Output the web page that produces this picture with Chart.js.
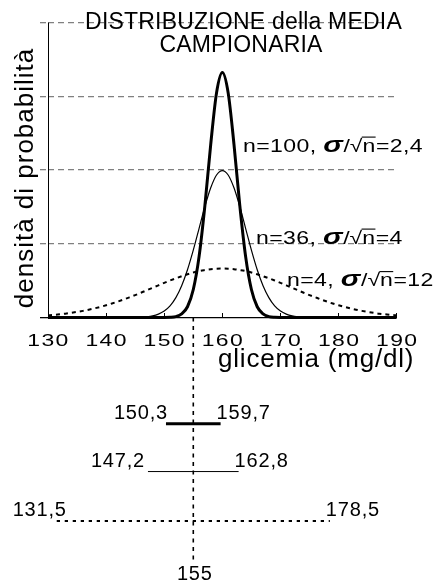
<!DOCTYPE html>
<html><head><meta charset="utf-8">
<script src="https://cdn.jsdelivr.net/npm/chart.js@4"></script>
<style>html,body{margin:0;padding:0;background:#fff}#wrap{width:443px;height:586px}</style>
</head><body><div id="wrap"><canvas id="c" width="443" height="586"></canvas></div>
<script>
// ---- data ----
const glicemia = [130,131,132,133,134,135,136,137,138,139,140,141,142,143,144,145,146,147,148,149,150,151,152,153,154,155,156,157,158,159,160,161,162,163,164,165,166,167,168,169,170,171,172,173,174,175,176,177,178,179,180,181,182,183,184,185,186,187,188,189,190];
const densN100 = [0,0,0,0,0,0,0,0,0,0,0,0,0,0,0,0,0,0,0,0,0,0.0001,0.0006,0.0024,0.0073,0.0190,0.0415,0.0761,0.1175,0.1524,0.1662,0.1524,0.1175,0.0761,0.0415,0.0190,0.0073,0.0024,0.0006,0.0001,0,0,0,0,0,0,0,0,0,0,0,0,0,0,0,0,0,0,0,0,0];
const densN36 = [0,0,0,0,0,0,0,0,0,0,0,0,0,0,0,0.0001,0.0002,0.0005,0.0011,0.0023,0.0044,0.0079,0.0135,0.0216,0.0324,0.0457,0.0605,0.0753,0.0880,0.0967,0.0997,0.0967,0.0880,0.0753,0.0605,0.0457,0.0324,0.0216,0.0135,0.0079,0.0044,0.0023,0.0011,0.0005,0.0002,0.0001,0,0,0,0,0,0,0,0,0,0,0,0,0,0,0];
const densN4 = [0.0015,0.0018,0.0022,0.0026,0.0032,0.0038,0.0045,0.0053,0.0062,0.0072,0.0083,0.0095,0.0108,0.0122,0.0137,0.0152,0.0168,0.0185,0.0202,0.0218,0.0235,0.0251,0.0266,0.0280,0.0293,0.0305,0.0315,0.0322,0.0328,0.0331,0.0332,0.0331,0.0328,0.0322,0.0315,0.0305,0.0293,0.0280,0.0266,0.0251,0.0235,0.0218,0.0202,0.0185,0.0168,0.0152,0.0137,0.0122,0.0108,0.0095,0.0083,0.0072,0.0062,0.0053,0.0045,0.0038,0.0032,0.0026,0.0022,0.0018,0.0015];
const xTickValues = [130,140,150,160,170,180,190];
const sampleSizes = ['100','36','4'];
const stdErrors = ['2,4','4','12'];
const ciLow = [150.3,147.2,131.5];
const ciHigh = [159.7,162.8,178.5];
const ciLowText = ['150,3','147,2','131,5'];
const ciHighText = ['159,7','162,8','178,5'];
const sampleMean = 155;
const sampleMeanText = '155';
const titleLines = ['DISTRIBUZIONE della MEDIA','CAMPIONARIA'];
const xTitle = 'glicemia (mg/dl)';
const yTitle = 'densità di probabilità';

// ---- layout / style ----
const FAM = '"Liberation Sans", Arial, Helvetica, sans-serif';
const ciRowLevel = [-0.072, -0.1045, -0.138];
const meanLineBottom = -0.166;
const ciStyles = [{w:3,dash:[]},{w:1,dash:[]},{w:2,dash:[3.3,4.7]}];
const annoPos = [{x:243,b:151.5},{x:256,b:243.5},{x:287,b:286}];
const ciLowDx = [2,-3,10];
const TICK_STRETCH = 1.35;
const ANNO_STRETCH = 1.28;

function curve(ys){ return glicemia.map((x,i)=>({x:x,y:ys[i]})); }
const datasets = [
  {data:curve(densN100), borderColor:'#000', borderWidth:3, pointRadius:0, cubicInterpolationMode:'monotone'},
  {data:curve(densN36), borderColor:'#000', borderWidth:1.2, pointRadius:0, cubicInterpolationMode:'monotone'},
  {data:curve(densN4), borderColor:'#000', borderWidth:2, borderDash:[4,4], pointRadius:0, cubicInterpolationMode:'monotone'}
];
ciLow.forEach((lo,i)=>{
  datasets.push({data:[{x:lo,y:ciRowLevel[i]},{x:ciHigh[i],y:ciRowLevel[i]}], borderColor:'#000', borderWidth:ciStyles[i].w, borderDash:ciStyles[i].dash, pointRadius:0, borderCapStyle:'butt'});
});
datasets.push({data:[{x:sampleMean,y:0},{x:sampleMean,y:meanLineBottom}], borderColor:'#000', borderWidth:1.6, borderDash:[4,4.5], pointRadius:0});

const textPlugin = {
  id:'texts',
  beforeDatasetsDraw(chart){
    const ctx = chart.ctx, xs = chart.scales.x, ys = chart.scales.y;
    ctx.save();
    ctx.strokeStyle = '#000'; ctx.lineWidth = 1;
    const ax = Math.round(xs.getPixelForValue(xTickValues[0])) + 0.5;
    ctx.beginPath(); ctx.moveTo(ax, ys.getPixelForValue(0)); ctx.lineTo(ax, ys.getPixelForValue(ys.max)); ctx.stroke();
    ctx.restore();
  },
  afterDraw(chart){
    const ctx = chart.ctx, xs = chart.scales.x, ys = chart.scales.y;
    ctx.save();
    ctx.fillStyle = '#000';
    ctx.textBaseline = 'alphabetic';
    // x tick labels (stretched like the original)
    ctx.font = '17px ' + FAM; ctx.letterSpacing = '1px'; ctx.textAlign = 'center';
    xs.ticks.forEach(t=>{
      ctx.save();
      ctx.translate(xs.getPixelForValue(t.value) + 0.5, 345.5);
      ctx.scale(TICK_STRETCH, 1);
      ctx.fillText(String(t.value), 0, 0);
      ctx.restore();
    });
    // title
    ctx.font = '23px ' + FAM; ctx.letterSpacing = '0.2px'; ctx.textAlign = 'center';
    ctx.fillText(titleLines[0], 243.5, 28.5);
    ctx.fillText(titleLines[1], 241, 52);
    // x title
    ctx.font = '26px ' + FAM; ctx.letterSpacing = '0.8px'; ctx.textAlign = 'left';
    ctx.fillText(xTitle, 218, 366.5);
    // y title
    ctx.save();
    ctx.translate(33, 178); ctx.rotate(-Math.PI/2);
    ctx.font = '26px ' + FAM; ctx.letterSpacing = '1px'; ctx.textAlign = 'center';
    ctx.fillText(yTitle, 0, 0);
    ctx.restore();
    // annotations
    sampleSizes.forEach((n,i)=>{
      const p = annoPos[i]; const sz = 18;
      ctx.save();
      ctx.translate(p.x, p.b); ctx.scale(ANNO_STRETCH, 1);
      let x = 0; const b = 0;
      ctx.textAlign = 'left';
      ctx.font = sz + 'px ' + FAM; ctx.letterSpacing = '0.3px';
      let s = 'n=' + n + ', ';
      ctx.fillText(s, x, b); x += ctx.measureText(s).width;
      ctx.font = 'italic bold 23px ' + FAM; ctx.letterSpacing = '0px';
      ctx.fillText('σ', x, b); x += ctx.measureText('σ').width + 0.5;
      ctx.font = sz + 'px ' + FAM; ctx.letterSpacing = '0px';
      ctx.fillText('/', x, b); x += ctx.measureText('/').width;
      ctx.fillText('√', x, b); const wS = ctx.measureText('√').width; x += wS;
      const nW = ctx.measureText('n').width;
      ctx.fillText('n', x, b);
      ctx.strokeStyle = '#000'; ctx.lineWidth = 1.1;
      ctx.beginPath(); ctx.moveTo(x - 0.5, b - sz*0.8); ctx.lineTo(x + nW + 0.3, b - sz*0.8); ctx.stroke();
      x += nW + 0.5;
      ctx.letterSpacing = '0.3px';
      ctx.fillText('=' + stdErrors[i], x, b);
      ctx.restore();
    });
    // CI labels
    ctx.font = '20px ' + FAM; ctx.letterSpacing = '0.8px';
    ciLow.forEach((lo,i)=>{
      const py = ys.getPixelForValue(ciRowLevel[i]) - 5;
      ctx.textAlign = 'right';
      ctx.fillText(ciLowText[i], xs.getPixelForValue(lo) + ciLowDx[i], py);
      ctx.textAlign = 'left';
      ctx.fillText(ciHighText[i], xs.getPixelForValue(ciHigh[i]) - 4, py);
    });
    ctx.textAlign = 'center';
    ctx.fillText(sampleMeanText, xs.getPixelForValue(sampleMean) + 1.5, 580);
    ctx.restore();
    ctx.letterSpacing = '0px';
  }
};

new Chart(document.getElementById('c'), {
  type:'line',
  data:{datasets:datasets},
  options:{
    responsive:false, animation:false, events:[],
    layout:{padding:{top:22.7, right:46.3, bottom:17.9, left:0}},
    plugins:{legend:{display:false}, tooltip:{enabled:false}, title:{display:false}},
    scales:{
      x:{type:'linear', min:130, max:190, position:{y:0},
        afterFit:s=>{s.height=0;},
        afterBuildTicks:s=>{s.ticks = xTickValues.map(v=>({value:v}));},
        ticks:{display:false},
        grid:{display:true, drawOnChartArea:false, drawTicks:true, tickLength:-5, tickColor:'#000', tickWidth:1},
        border:{display:false}},
      y:{type:'linear', min:-0.17, max:0.2,
        afterFit:s=>{s.width=48;},
        ticks:{display:false, stepSize:0.05},
        grid:{drawTicks:true, tickLength:8,
          color:c=>{const v=c.tick?c.tick.value:0; return Math.abs(v)<1e-9?'#000':(v>0?'#808080':'rgba(0,0,0,0)');},
          tickColor:c=>{const v=c.tick?c.tick.value:0; return Math.abs(v)<1e-9?'#000':(v>0?'#808080':'rgba(0,0,0,0)');},
          lineWidth:1.3,
          tickBorderDash:c=>{const v=c.tick?c.tick.value:0; return v>1e-9?[6,4]:[];}},
        border:{display:false, dash:c=>{const v=c.tick?c.tick.value:0; return v>1e-9?[6,4]:[];}}}
    }
  },
  plugins:[textPlugin]
});
</script></body></html>
